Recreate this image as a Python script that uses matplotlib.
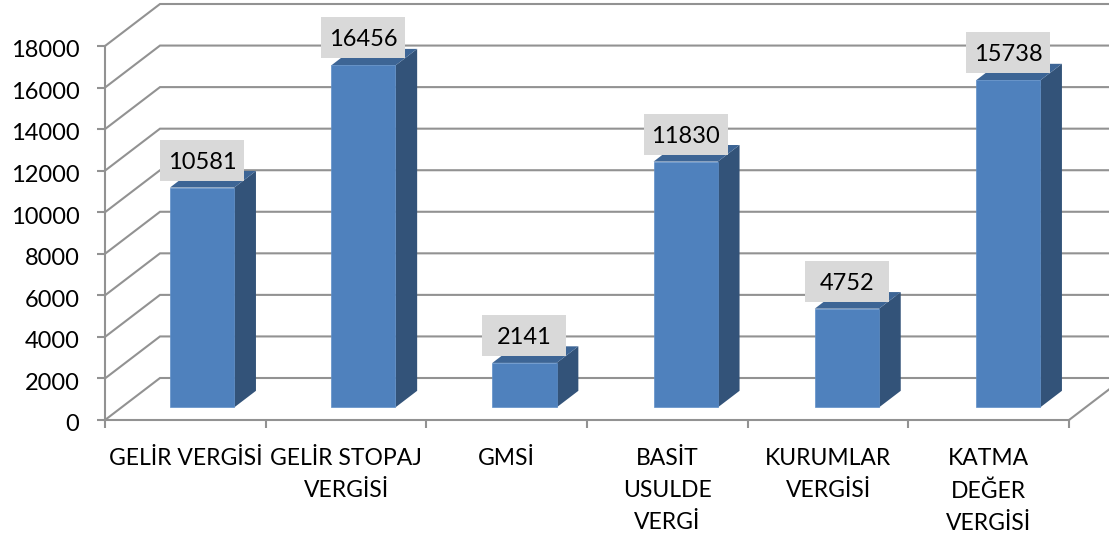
import numpy as np
import matplotlib
matplotlib.use('Agg')
import matplotlib.pyplot as plt
from matplotlib.patches import Rectangle
from matplotlib.transforms import ScaledTranslation

plt.rcParams['font.family'] = ['Lato', 'DejaVu Sans']

# Values
categories = ['GELİR VERGİSİ', 'GELİR STOPAJ\nVERGİSİ', 'GMSİ', 'BASİT\nUSULDE\nVERGİ',
              'KURUMLAR\nVERGİSİ', 'KATMA\nDEĞER\nVERGİSİ']
values = [10581, 16456, 2141, 11830, 4752, 15738]
y_ticks = list(range(0, 18001, 2000))

W, H = 1109, 534
GRID = '#929292'
FRONT = '#4f81bd'
TOP = '#3d6595'
SIDE = '#335379'
BOX = '#d9d9d9'

# depth projection, d=0 is the front plane and d=1 the back wall
SHIFT_X = 55 / 160.67
SHIFT_Y = 42 / 374 * 18000
BAR_D0 = 0.30
BAR_D1 = 0.695
BAR_W = 0.40
BAR_PITCH = 1.0033


def proj(x, y, d):
    return x + d * SHIFT_X, y + d * SHIFT_Y


fig = plt.figure(figsize=(W / 100, H / 100), dpi=100)
ax = fig.add_axes([105 / W, 1 - 420 / H, (1069 - 105) / W, (420 - 46) / H])
ax.set_xlim(0, 6)
ax.set_ylim(0, 18000)
ax.patch.set_visible(False)

# Walls: back gridlines, diagonals and floor edge
for v in y_ticks:
    x0, y0 = proj(0, v, 0)
    x1, y1 = proj(0, v, 1)
    x2, y2 = proj(6, v, 1)
    ax.plot([x0, x1, x2], [y0, y1, y2], color=GRID, lw=1.5, clip_on=False, zorder=1,
            solid_joinstyle='miter')
x0, y0 = proj(6, 0, 0)
x1, y1 = proj(6, 0, 1)
ax.plot([x0, x1], [y0, y1], color=GRID, lw=1.5, clip_on=False, zorder=1)

# Bars: front face from ax.bar, top and side as polygons
centers = np.arange(len(values)) + 0.5
for c, v in zip(centers * BAR_PITCH, values):
    l, r = c - BAR_W / 2, c + BAR_W / 2
    xl, yb = proj(l, 0, BAR_D0)
    xr, yt = proj(r, v, BAR_D0)
    ax.bar(xl, yt - yb, width=xr - xl, bottom=yb, align='edge', color=FRONT,
           edgecolor='#5f8fc8', lw=0.5, zorder=3, clip_on=False)
    side = [proj(r, 0, BAR_D0), proj(r, 0, BAR_D1), proj(r, v, BAR_D1), proj(r, v, BAR_D0)]
    top = [proj(l, v, BAR_D0), proj(r, v, BAR_D0), proj(r, v, BAR_D1), proj(l, v, BAR_D1)]
    ax.fill(*zip(*side), color=SIDE, lw=0, zorder=2, clip_on=False)
    ax.fill(*zip(*top), color=TOP, lw=0, zorder=2, clip_on=False)

    # Data label in a grey box above the bar
    bx, by = proj(c, v, BAR_D0)
    by += 27.5 / 374 * 18000
    bw, bh = 84 / 160.67, 41 / 374 * 18000
    ax.add_patch(Rectangle((bx - bw / 2, by - bh / 2), bw, bh, fc=BOX, ec='none',
                           zorder=4, clip_on=False))
    ax.text(bx, by, str(v), ha='center', va='center_baseline', fontsize=17,
            color='black', zorder=5, clip_on=False)

# Axes
for s in ['top', 'right']:
    ax.spines[s].set_visible(False)
for s in ['left', 'bottom']:
    ax.spines[s].set_color(GRID)
    ax.spines[s].set_linewidth(1.5)
    ax.spines[s].set_zorder(1.5)

ax.set_yticks(y_ticks)
ax.set_xticks(np.arange(0, 7))
ax.set_xticklabels([])
ax.set_xticks(centers, labels=categories, minor=True)
ax.tick_params(axis='both', which='major', length=6, width=1.5, color=GRID, pad=12.5)
ax.tick_params(axis='y', labelsize=17)
ax.tick_params(axis='x', which='minor', length=0, labelsize=16.5, pad=20)
for lbl in ax.get_xticklabels(minor=True):
    lbl.set_linespacing(1.65)
# y labels sit slightly under their ticks
nudge = ScaledTranslation(0, -2 / 72, fig.dpi_scale_trans)
for lbl in ax.get_yticklabels():
    lbl.set_transform(lbl.get_transform() + nudge)

fig.savefig('out.png', dpi=100)
